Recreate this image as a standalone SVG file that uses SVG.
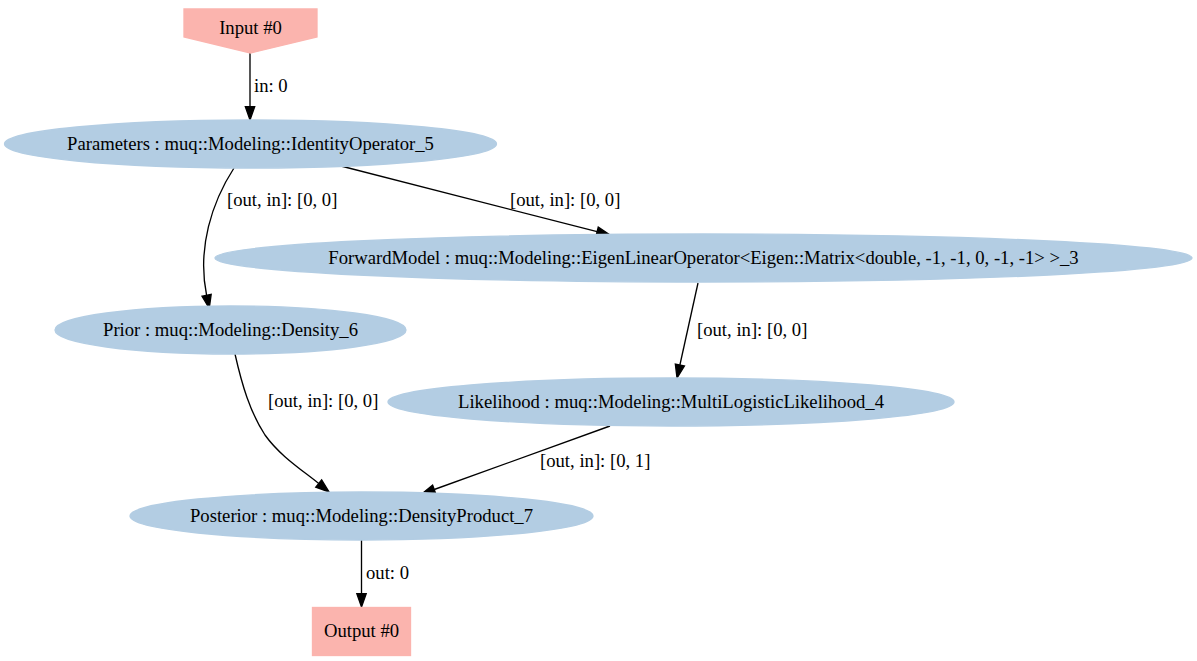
<svg xmlns="http://www.w3.org/2000/svg" width="1197" height="661" viewBox="0 0 1197 661">
<style>
.bg{fill:#ffffff}
.node-e{fill:#b3cde3;stroke:#b3cde3;stroke-width:1.33}
.node-io{fill:#fbb4ae;stroke:#fbb4ae;stroke-width:1.33}
.lbl{font-family:"Liberation Serif","Times New Roman",serif;font-size:18.67px;fill:#000000}
.nl{text-anchor:middle}
.edge{fill:none;stroke:#000000;stroke-width:1.33;marker-end:url(#arrow)}
</style>
<defs>
<marker id="arrow" markerUnits="userSpaceOnUse" markerWidth="15" markerHeight="11" refX="0" refY="0" orient="auto" overflow="visible">
<path d="M0,-4.67 L13.33,0 L0,4.67 Z" fill="#000000" stroke="#000000" stroke-width="1.33"/>
</marker>
</defs>
<rect class="bg" x="0" y="0" width="1197" height="661"/>
<g id="connectors">
<path class="edge" d="M250,53 L250,106.7"/>
<text class="lbl" x="254" y="92">in: 0</text>
<path class="edge" d="M234,168 C212,202 197,248 206.6,295.3"/>
<text class="lbl" x="227" y="206">[out, in]: [0, 0]</text>
<path class="edge" d="M337,165 L597.1,231.7"/>
<text class="lbl" x="510" y="206">[out, in]: [0, 0]</text>
<path class="edge" d="M698,283 L679.9,365"/>
<text class="lbl" x="697" y="336">[out, in]: [0, 0]</text>
<path class="edge" d="M235,354 C242,385 250,412 265,435 C280,456 302,470 318.7,483.5"/>
<text class="lbl" x="268" y="407">[out, in]: [0, 0]</text>
<path class="edge" d="M610,426 L434.2,489.5"/>
<text class="lbl" x="540" y="467">[out, in]: [0, 1]</text>
<path class="edge" d="M361.5,540 L361.5,593.7"/>
<text class="lbl" x="366" y="579">out: 0</text>
</g>
<g id="input0">
<polygon class="node-io" points="184,9 317,9 317,37 250.5,53 184,37"/>
<text class="lbl nl" x="250.5" y="34">Input #0</text>
</g>
<g id="parameters">
<ellipse class="node-e" cx="250.5" cy="144" rx="246" ry="24"/>
<text class="lbl nl" x="250.5" y="150">Parameters : muq::Modeling::IdentityOperator_5</text>
</g>
<g id="forwardmodel">
<ellipse class="node-e" cx="703.5" cy="258" rx="488.5" ry="24"/>
<text class="lbl nl" x="703.5" y="264">ForwardModel : muq::Modeling::EigenLinearOperator&lt;Eigen::Matrix&lt;double, -1, -1, 0, -1, -1&gt; &gt;_3</text>
</g>
<g id="prior">
<ellipse class="node-e" cx="230.5" cy="330" rx="175.5" ry="24"/>
<text class="lbl nl" x="230.5" y="336">Prior : muq::Modeling::Density_6</text>
</g>
<g id="likelihood">
<ellipse class="node-e" cx="671" cy="402" rx="283" ry="24"/>
<text class="lbl nl" x="671" y="408">Likelihood : muq::Modeling::MultiLogisticLikelihood_4</text>
</g>
<g id="posterior">
<ellipse class="node-e" cx="361.5" cy="516" rx="231.5" ry="24"/>
<text class="lbl nl" x="361.5" y="522">Posterior : muq::Modeling::DensityProduct_7</text>
</g>
<g id="output0">
<rect class="node-io" x="312.5" y="607.5" width="98" height="48"/>
<text class="lbl nl" x="361.5" y="637">Output #0</text>
</g>
</svg>
